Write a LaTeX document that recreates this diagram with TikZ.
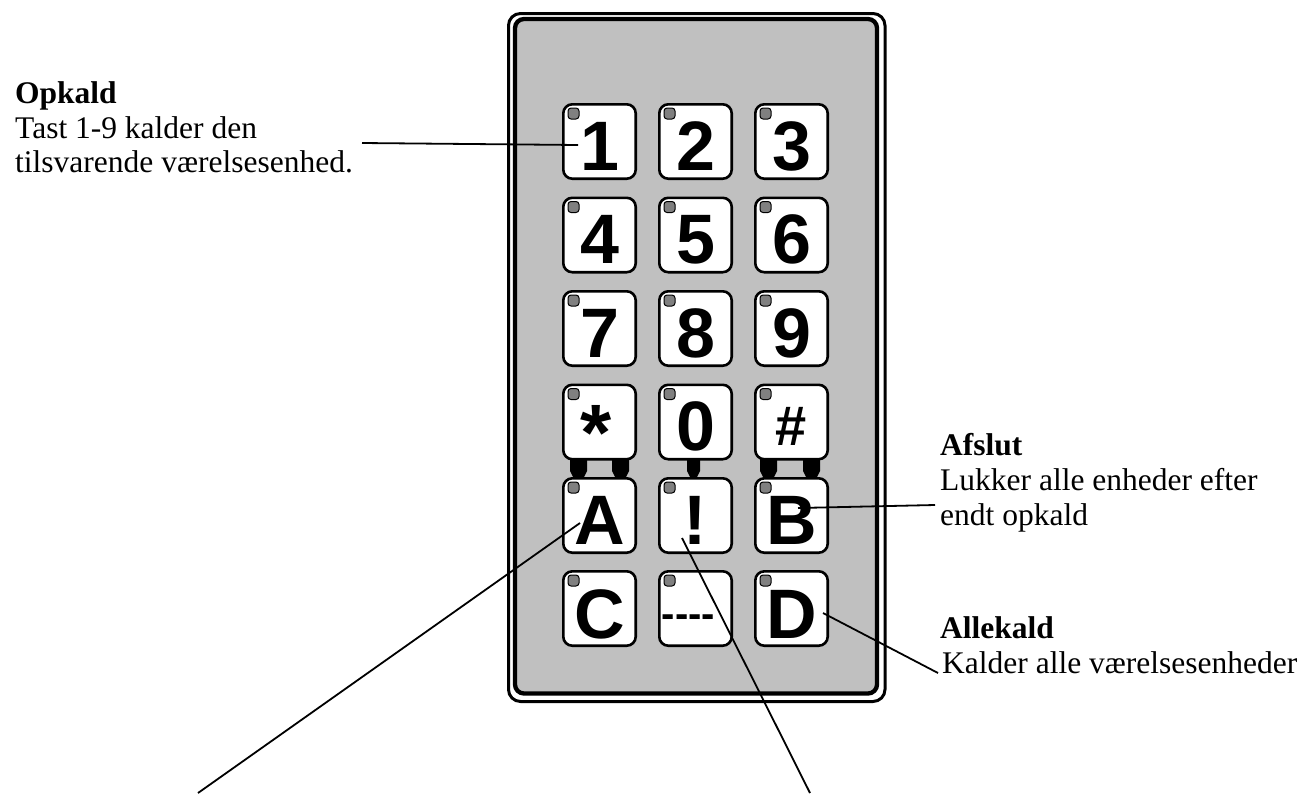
\documentclass[tikz,border=0pt]{standalone}
\usepackage{fontspec}
\setmainfont{Liberation Serif}
\newfontfamily\keyfont{Liberation Sans}
\usetikzlibrary{calc}
\definecolor{panelgray}{RGB}{192,192,192}
\definecolor{ledgray}{RGB}{128,128,128}
\begin{document}
\begin{tikzpicture}[x=1pt,y=-1pt,
  keybox/.style={draw=black, fill=white, line width=2.6pt, rounded corners=9pt, minimum width=72.4pt, minimum height=74.4pt, inner sep=0pt},
  keylabel/.style={font=\keyfont\bfseries\fontsize{70}{70}\selectfont, inner sep=0pt, anchor=base},
  led/.style={draw=black, fill=ledgray, line width=1pt, rounded corners=3pt, minimum size=11pt, inner sep=0pt},
  conn/.style={draw=black, line width=1.8pt},
  lbl/.style={font=\fontsize{31.5}{35}\selectfont, inner sep=0pt, anchor=base west},
  lblhead/.style={lbl, font=\bfseries\fontsize{31.5}{35}\selectfont}
]
\useasboundingbox (0,0) rectangle (1300,793);
\fill[white] (0,0) rectangle (1300,793);

% panel
\draw[line width=3pt, rounded corners=12pt] (508.5,13.5) rectangle (885,701.5);
\draw[line width=4.3pt, fill=panelgray, rounded corners=9pt] (515,19) rectangle (877,693.5);

% connector blobs between row 4 and row 5
\foreach \a/\b in {570/587, 612/629, 687/700, 760/777, 803/820}{
  \fill[black] (\a,459) -- (\b,459) -- (\b,471) -- (\b-3,477) -- (\a+3,477) -- (\a,471) -- cycle;
}

% digit keys
\foreach \n/\x/\y in {1/599.5/141.5, 2/695.5/141.5, 3/791.5/141.5,
                      4/599.5/235, 5/695.5/235, 6/791.5/235,
                      7/599.5/328.5, 8/695.5/328.5, 9/791.5/328.5}{
  \node[keybox] (k\n) at (\x,\y) {};
  \node[led] (led\n) at ($(k\n.center)+(-26,-28)$) {};
  \node[keylabel] (t\n) at ($(k\n.center)+(0,28.5)$) {\n};
}

% other keys
\foreach \n/\x/\y in {star/599.5/422, 0/695.5/422, hash/791.5/422,
                      A/599.5/515.5, ex/695.5/515.5, B/791.5/515.5,
                      C/599.5/608.5, dash/695.5/608.5, D/791.5/608.5}{
  \node[keybox] (k\n) at (\x,\y) {};
  \node[led] (led\n) at ($(k\n.center)+(-26,-28)$) {};
}

\node[keylabel, anchor=north, font=\keyfont\bfseries\fontsize{80}{80}\selectfont] (tstar) at ($(kstar.center)+(-3,-17)$) {*};
\node[keylabel] (t0) at ($(k0.center)+(0,28.5)$) {0};
\node[keylabel, font=\keyfont\bfseries\fontsize{56}{56}\selectfont] (thash) at ($(khash.center)+(0,23.5)$) {\#};
\node[keylabel] (tA) at ($(kA.center)+(0,28.5)$) {A};
\node[keylabel] (tex) at ($(kex.center)+(0,28.5)$) {!};
\node[keylabel] (tB) at ($(kB.center)+(0,28.5)$) {B};
\node[keylabel] (tC) at ($(kC.center)+(0,29.5)$) {C};
\node[keylabel, anchor=base west, font=\keyfont\bfseries\fontsize{40}{40}\selectfont] (tdash) at ($(kdash.center)+(-34,18.5)$) {\mbox{-}\mbox{-}\mbox{-}\mbox{-}};
\node[keylabel] (tD) at ($(kD.center)+(0,29.5)$) {D};

% texts
\node[lblhead] (hopk) at (15,103) {Opkald};
\node[lbl] (opk1) at (15,138) {Tast 1-9 kalder den};
\node[lbl] (opk2) at (15,172) {tilsvarende værelsesenhed.};

\node[lblhead] (hafs) at (940,455) {Afslut};
\node[lbl] (afs1) at (940,490) {Lukker alle enheder efter};
\node[lbl] (afs2) at (940,525) {endt opkald};

\node[lblhead] (hall) at (940,638) {Allekald};
\node[lbl] (all1) at (942,673) {Kalder alle værelsesenheder};

% connectors
\coordinate (e1) at (362,143);
\coordinate (eB) at (935,505);
\coordinate (eD) at (938,673);
\coordinate (eA) at (198,793);
\coordinate (eX) at (810,793);
\draw[conn] (e1) -- ($(k1.center)+(-21.5,3.5)$);
\draw[conn] ($(kB.center)+(6.5,-7.5)$) -- (eB);
\draw[conn] ($(kD.center)+(31.5,4.5)$) -- (eD);
\draw[conn] ($(kA.center)+(-19.5,7.5)$) -- (eA);
\draw[conn] ($(kex.center)+(-13.5,22.5)$) -- (eX);
\end{tikzpicture}
\end{document}
